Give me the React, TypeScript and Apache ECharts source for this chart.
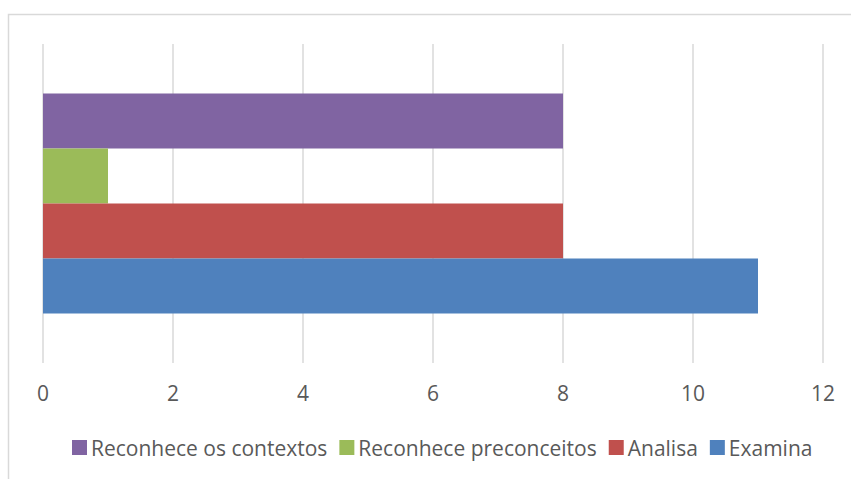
import React, { useEffect, useRef } from "react";
import * as echarts from "echarts";

const categories = [""];
const seriesNames = ["Reconhece os contextos", "Reconhece preconceitos", "Analisa", "Examina"];
const contextos = [8];
const preconceitos = [1];
const analisa = [8];
const examina = [11];
const colors = ["#8064A2", "#9BBB59", "#C0504D", "#4F81BD"];
const legendOrder = ["Reconhece os contextos", "Reconhece preconceitos", "Analisa", "Examina"];

export default function App() {
  const ref = useRef<HTMLDivElement>(null);
  useEffect(() => {
    if (!ref.current) return;
    const chart = echarts.init(ref.current, undefined, { renderer: "svg" });
    const values = [contextos, preconceitos, analisa, examina];
    chart.setOption({
      animation: false,
      textStyle: { fontFamily: "Open Sans, Liberation Sans, sans-serif" },
      graphic: [
        {
          type: "rect",
          shape: { x: 8.5, y: 14.5, width: 900, height: 500 },
          style: { fill: "none", stroke: "#d9d9d9", lineWidth: 1.5 },
          silent: true,
        },
      ],
      grid: { left: 43, top: 44, width: 780, height: 319, containLabel: false },
      xAxis: {
        type: "value",
        min: 0,
        max: 12,
        interval: 2,
        axisLine: { show: false },
        axisTick: { show: false },
        splitLine: { lineStyle: { color: "#d9d9d9", width: 1.5 } },
        axisLabel: { color: "#595959", fontSize: 21, margin: 19 },
      },
      yAxis: {
        type: "category",
        data: categories,
        axisLine: { show: false },
        axisTick: { show: false },
        axisLabel: { show: false },
        splitLine: { show: false },
      },
      legend: {
        data: legendOrder,
        left: 67,
        top: 432,
        itemWidth: 15,
        itemHeight: 15,
        itemGap: 12,
        icon: "rect",
        textStyle: { color: "#595959", fontSize: 21, padding: [0, 0, 0, -1] },
      },
      series: seriesNames.map((name, i) => ({
        name,
        type: "bar",
        data: values[i],
        barWidth: 55,
        barGap: "0%",
        itemStyle: { color: colors[i] },
      })),
    });
    return () => chart.dispose();
  }, []);
  return <div ref={ref} style={{ position: "fixed", left: 0, top: 0, width: 851, height: 479, background: "#fff" }} />;
}
